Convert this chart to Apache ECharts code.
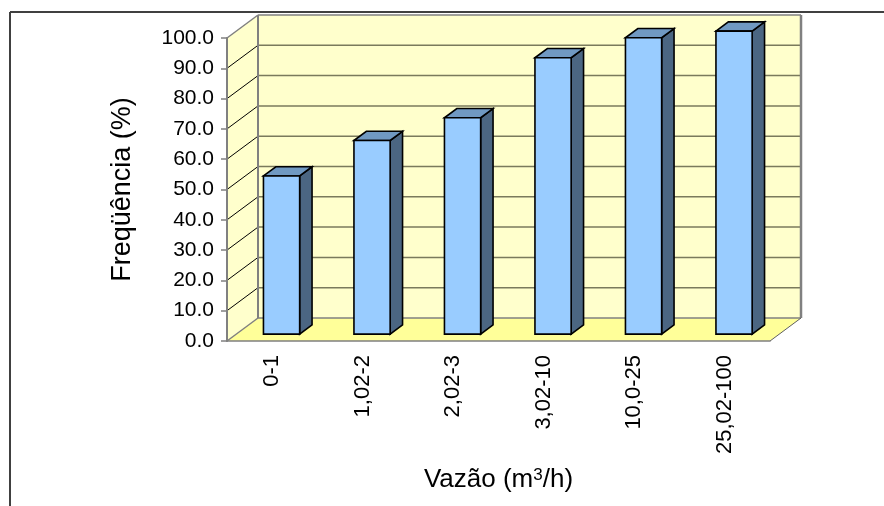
<!DOCTYPE html>
<html>
<head>
<meta charset="utf-8">
<title>Freqüência x Vazão</title>
<script src="https://cdn.jsdelivr.net/npm/echarts@6/dist/echarts.min.js"></script>
<style>
html, body { margin: 0; padding: 0; background: #fff; }
#grafico { width: 884px; height: 506px; }
</style>
</head>
<body>
<div id="grafico"></div>
<script>
// dados
var categorias = ['0-1', '1,02-2', '2,02-3', '3,02-10', '10,0-25', '25,02-100'];
var frequencia = [52.2, 63.9, 71.4, 91.2, 97.8, 100.0];
var ticksY = [0, 10, 20, 30, 40, 50, 60, 70, 80, 90, 100];

var fonte = 'Liberation Sans, Arial, sans-serif';
// deslocamento da profundidade (efeito 3D)
var PX = 31, PY = -23;
var D0 = 0.3, D1 = 0.7;   // profundidade da frente e do fundo das barras
var cinza = '#808080';

function desloca(p, d) {
    return [p[0] + PX * d, p[1] + PY * d];
}

var chart = echarts.init(document.getElementById('grafico'));

// paredes e chao
function desenhaParedes(params, api) {
    var cs = params.coordSys;
    var gx = cs.x, gy = cs.y, gw = cs.width;
    var y0 = api.coord([0, 0])[1];
    var filhos = [];
    // parede do fundo
    filhos.push({ type: 'rect', shape: { x: gx + PX, y: gy + PY, width: gw, height: y0 - gy },
        style: { fill: '#FFFFCC' } });
    // parede lateral
    filhos.push({ type: 'polygon', shape: { points: [[gx, gy], [gx + PX, gy + PY], [gx + PX, y0 + PY], [gx, y0]] },
        style: { fill: '#FFFFCC' } });
    // chao
    filhos.push({ type: 'polygon', shape: { points: [[gx, y0], [gx + gw, y0], [gx + gw + PX, y0 + PY], [gx + PX, y0 + PY]] },
        style: { fill: '#FFFF99' } });
    // linhas de grade
    ticksY.forEach(function (t) {
        var y = api.coord([0, t])[1];
        filhos.push({ type: 'line', shape: { x1: gx + PX, y1: y + PY, x2: gx + gw + PX, y2: y + PY },
            style: { stroke: t === 0 || t === 100 ? cinza : '#7A7A5C', lineWidth: 1.5 } });
        filhos.push({ type: 'line', shape: { x1: gx, y1: y, x2: gx + PX, y2: y + PY },
            style: { stroke: t === 0 || t === 100 ? cinza : '#000', lineWidth: t === 0 || t === 100 ? 1.5 : 1 } });
    });
    // bordas das paredes
    filhos.push({ type: 'line', shape: { x1: gx + PX, y1: gy + PY, x2: gx + PX, y2: y0 + PY },
        style: { stroke: cinza, lineWidth: 2 } });
    filhos.push({ type: 'line', shape: { x1: gx + gw + PX, y1: gy + PY, x2: gx + gw + PX, y2: y0 + PY },
        style: { stroke: cinza, lineWidth: 2.5 } });
    filhos.push({ type: 'line', shape: { x1: gx + gw, y1: y0, x2: gx + gw + PX, y2: y0 + PY },
        style: { stroke: '#606060', lineWidth: 1 } });
    return { type: 'group', children: filhos };
}

// barras 3D
function desenhaBarra(params, api) {
    var i = api.value(0);
    var topo = api.coord([i, api.value(1)]);
    var base = api.coord([i, 0]);
    var hw = api.size([1, 0])[0] * 0.2;
    var cx = topo[0];
    var fTL = desloca([cx - hw, topo[1]], D0), fTR = desloca([cx + hw, topo[1]], D0);
    var fBR = desloca([cx + hw, base[1]], D0), fBL = desloca([cx - hw, base[1]], D0);
    var bTL = desloca([cx - hw, topo[1]], D1), bTR = desloca([cx + hw, topo[1]], D1);
    var bBR = desloca([cx + hw, base[1]], D1);
    var borda = { stroke: '#000', lineWidth: 1.6, lineJoin: 'miter' };
    return {
        type: 'group',
        children: [
            { type: 'polygon', shape: { points: [fTR, bTR, bBR, fBR] },
                style: Object.assign({ fill: '#4B6682' }, borda) },
            { type: 'polygon', shape: { points: [fTL, bTL, bTR, fTR] },
                style: Object.assign({ fill: '#7099C2' }, borda) },
            { type: 'polygon', shape: { points: [fTL, fTR, fBR, fBL] },
                style: Object.assign({ fill: '#99CCFF' }, borda) }
        ]
    };
}

var option = {
    animation: false,
    backgroundColor: '#fff',
    textStyle: { fontFamily: fonte },
    grid: { left: 227, right: 114, top: 38, bottom: 165 },
    // moldura (so esquerda e topo aparecem)
    graphic: [
        { type: 'line', shape: { x1: 10, y1: 12, x2: 884, y2: 12 }, style: { stroke: '#404040', lineWidth: 2 } },
        { type: 'line', shape: { x1: 10, y1: 12, x2: 10, y2: 506 }, style: { stroke: '#404040', lineWidth: 2 } }
    ],
    xAxis: {
        type: 'category',
        data: categorias,
        z: 5,
        axisLine: { lineStyle: { color: cinza, width: 1.5 } },
        axisTick: { length: 6, lineStyle: { color: cinza, width: 1.5 } },
        axisLabel: { rotate: 90, margin: 14, fontSize: 22, color: '#000', fontFamily: fonte },
        name: 'Vazão (m{sup|3}/h)',
        nameLocation: 'middle',
        nameGap: 126,
        nameTextStyle: {
            fontSize: 26, color: '#000', fontFamily: fonte,
            rich: { sup: { fontSize: 17, verticalAlign: 'top', color: '#000', fontFamily: fonte, padding: [0, 0, 8, 0] } }
        }
    },
    yAxis: {
        type: 'value',
        min: 0,
        max: 100,
        interval: 10,
        z: 5,
        splitLine: { show: false },
        axisLine: { show: true, lineStyle: { color: cinza, width: 2 } },
        axisTick: { show: true, length: 6, lineStyle: { color: cinza, width: 1.5 } },
        axisLabel: {
            margin: 13, fontSize: 21, color: '#000', fontFamily: fonte,
            formatter: function (v) { return v.toFixed(1); }
        },
        name: 'Freqüência (%)',
        nameLocation: 'middle',
        nameRotate: 90,
        nameGap: 91,
        nameTextStyle: { fontSize: 27, color: '#000', fontFamily: fonte }
    },
    series: [
        {
            type: 'custom',
            name: 'paredes',
            z: 1,
            clip: false,
            silent: true,
            renderItem: desenhaParedes,
            data: [[0, 0]]
        },
        {
            type: 'custom',
            name: 'Freqüência',
            z: 3,
            clip: false,
            renderItem: desenhaBarra,
            encode: { x: 0, y: 1 },
            data: frequencia.map(function (v, i) { return [i, v]; })
        }
    ]
};
chart.setOption(option);
</script>
</body>
</html>
